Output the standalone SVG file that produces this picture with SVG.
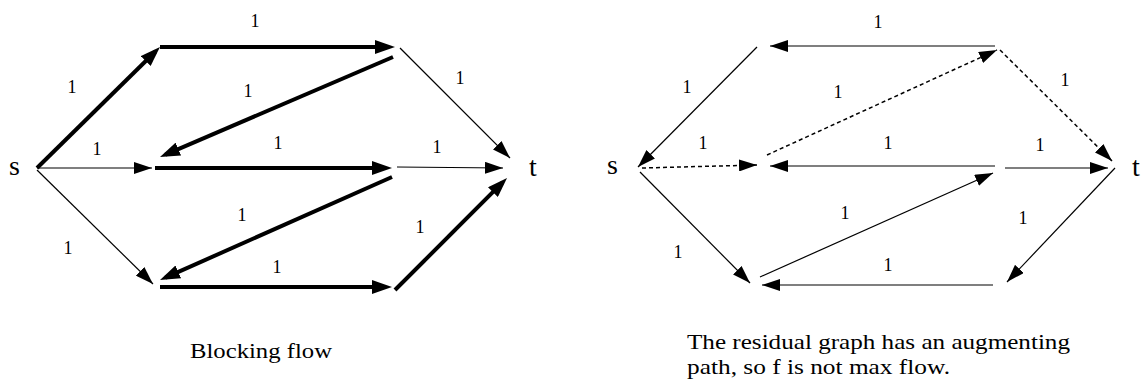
<svg xmlns="http://www.w3.org/2000/svg" width="1146" height="383" viewBox="0 0 1146 383">
<style>
.thin{stroke:#000;stroke-width:1.2;fill:none;marker-end:url(#ah)}
.heavy{stroke:#000;stroke-width:4;fill:none;marker-end:url(#ahb)}
.dash{stroke:#000;stroke-width:1.5;fill:none;stroke-dasharray:4 3;marker-end:url(#ah)}
.lbl{font-family:"Liberation Serif",serif;font-size:18px;text-anchor:middle;fill:#000}
.nd{font-family:"Liberation Serif",serif;font-size:28px;fill:#000}
.cap{font-family:"Liberation Serif",serif;font-size:22px;fill:#000}
</style>
<defs>
<marker id="ah" viewBox="0 0 18 12" refX="18" refY="6" markerWidth="18" markerHeight="12" markerUnits="userSpaceOnUse" orient="auto"><path d="M0,0L18,6L0,12z" fill="#000"/></marker>
<marker id="ahb" viewBox="0 0 20 14" refX="14" refY="7" markerWidth="20" markerHeight="14" markerUnits="userSpaceOnUse" orient="auto"><path d="M0,0L20,7L0,14z" fill="#000"/></marker>
</defs>
<rect width="1146" height="383" fill="#fff"/>
<g id="connectors">
<!-- left: blocking flow -->
<line class="heavy" x1="37" y1="168" x2="155.7" y2="51.2"/>
<line class="heavy" x1="160" y1="47" x2="389" y2="47"/>
<line class="thin" x1="400" y1="48" x2="510" y2="158"/>
<line class="heavy" x1="393" y1="57" x2="165.5" y2="154.6"/>
<line class="thin" x1="37" y1="168" x2="152" y2="168"/>
<line class="heavy" x1="155" y1="168" x2="386" y2="168"/>
<line class="thin" x1="397" y1="167" x2="503" y2="168"/>
<line class="heavy" x1="392" y1="177" x2="165.5" y2="277.6"/>
<line class="thin" x1="37" y1="170" x2="153" y2="284"/>
<line class="heavy" x1="160" y1="287" x2="386" y2="287"/>
<line class="heavy" x1="395" y1="290" x2="502.8" y2="182.2"/>
<text class="lbl" x="255" y="27">1</text>
<text class="lbl" x="72" y="93">1</text>
<text class="lbl" x="248" y="97">1</text>
<text class="lbl" x="97" y="155">1</text>
<text class="lbl" x="278" y="149">1</text>
<text class="lbl" x="460" y="84">1</text>
<text class="lbl" x="437" y="153">1</text>
<text class="lbl" x="242" y="221">1</text>
<text class="lbl" x="68" y="254">1</text>
<text class="lbl" x="277" y="273">1</text>
<text class="lbl" x="420" y="233">1</text>
<!-- right: residual graph -->
<line class="thin" x1="757" y1="47" x2="638" y2="167"/>
<line class="thin" x1="995" y1="46" x2="770" y2="46"/>
<line class="dash" x1="767" y1="155" x2="997" y2="50"/>
<line class="dash" x1="1000" y1="50" x2="1112" y2="161"/>
<line class="dash" x1="642" y1="168" x2="757" y2="165"/>
<line class="thin" x1="995" y1="166" x2="770" y2="166"/>
<line class="thin" x1="1005" y1="168" x2="1108" y2="168"/>
<line class="thin" x1="760" y1="277" x2="993" y2="173"/>
<line class="thin" x1="1115" y1="168" x2="1007" y2="282"/>
<line class="thin" x1="993" y1="285" x2="762" y2="285"/>
<line class="thin" x1="640" y1="172" x2="750" y2="283"/>
<text class="lbl" x="878" y="28">1</text>
<text class="lbl" x="687" y="93">1</text>
<text class="lbl" x="838" y="98">1</text>
<text class="lbl" x="703" y="149">1</text>
<text class="lbl" x="1065" y="86">1</text>
<text class="lbl" x="888" y="149">1</text>
<text class="lbl" x="1040" y="151">1</text>
<text class="lbl" x="678" y="258">1</text>
<text class="lbl" x="845" y="219">1</text>
<text class="lbl" x="1023" y="224">1</text>
<text class="lbl" x="888" y="271">1</text>
</g>
<g id="left-s"><text class="nd" x="9" y="175">s</text></g>
<g id="left-t"><text class="nd" x="529" y="176">t</text></g>
<g id="right-s"><text class="nd" x="607" y="174">s</text></g>
<g id="right-t"><text class="nd" x="1132" y="176">t</text></g>
<text class="cap" x="190" y="358" textLength="142" lengthAdjust="spacingAndGlyphs">Blocking flow</text>
<text class="cap" x="687" y="349" textLength="383" lengthAdjust="spacingAndGlyphs">The residual graph has an augmenting</text>
<text class="cap" x="687" y="374" textLength="263" lengthAdjust="spacingAndGlyphs">path, so f is not max flow.</text>
</svg>
